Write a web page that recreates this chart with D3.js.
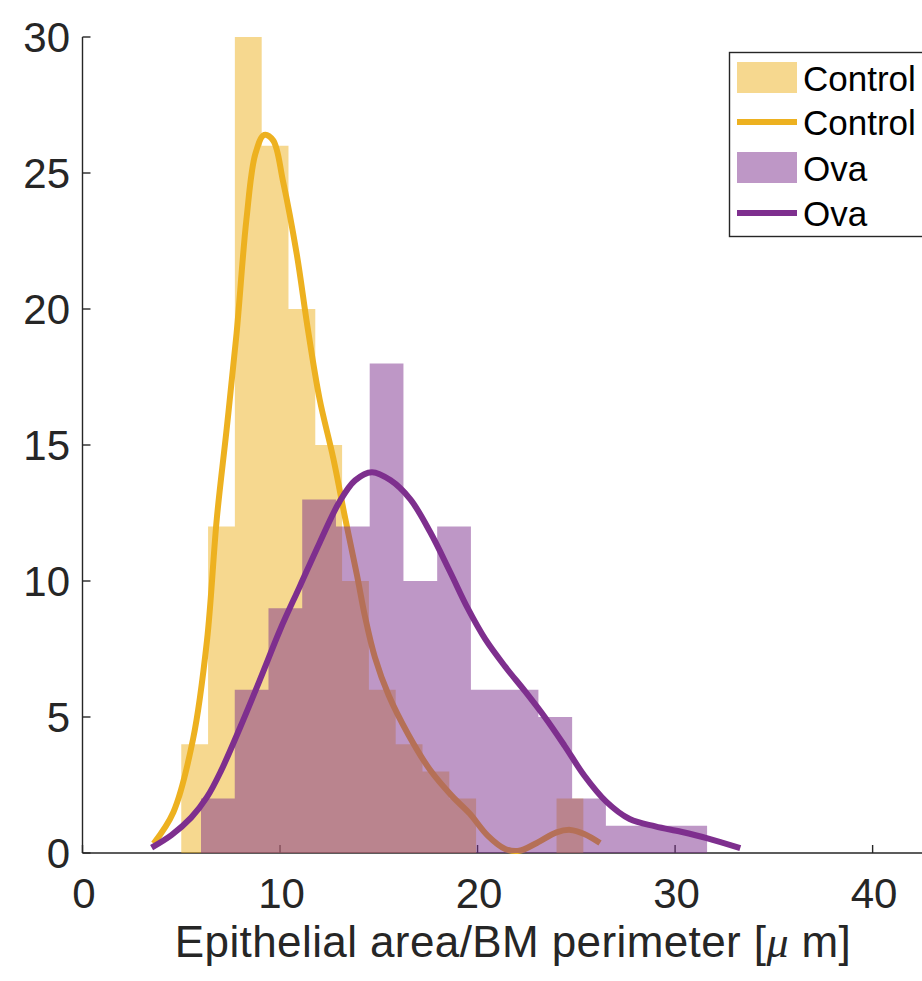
<!DOCTYPE html>
<html>
<head>
<meta charset="utf-8">
<script src="https://cdn.jsdelivr.net/npm/d3@7"></script>
<style>
  html, body { margin: 0; padding: 0; background: #fff; }
  svg { display: block; }
  text { font-family: "Liberation Sans", Arial, Helvetica, sans-serif; }
</style>
</head>
<body>
<svg id="chart" width="922" height="981"></svg>
<script>
// Histogram bins (left edge of first bin and bin width) and counts per bin
const controlBinStart = 5.0;
const controlBinWidth = 1.357;
const controlCounts = [4, 12, 30, 26, 20, 15, 10, 6, 4, 3, 2, 0, 0, 0, 2];

const ovaBinStart = 6.0;
const ovaBinWidth = 1.708;
const ovaCounts = [2, 6, 9, 13, 12, 18, 10, 12, 6, 6, 5, 2, 1, 1, 1];

// Kernel density fits, scaled to counts
const controlFitX = [3.6, 4.6, 5.6, 6.3, 6.8, 7.3, 7.8, 8.3, 8.75, 9.2, 9.65, 10.15, 10.85, 11.4, 12.0, 12.7, 13.3, 13.9, 14.3, 14.8, 15.5, 16.5, 17.6, 18.7, 19.6, 20.5, 21.4, 22.1, 23.0, 24.0, 24.7, 25.4, 26.2];
const controlFitY = [0.35, 1.5, 4.2, 7.8, 12.3, 15.6, 19.1, 23.3, 25.7, 26.4, 26.2, 24.7, 22.0, 19.3, 16.7, 14.5, 12.3, 10.2, 8.7, 7.2, 5.8, 4.35, 3.05, 2.1, 1.45, 0.65, 0.15, 0.08, 0.37, 0.76, 0.85, 0.7, 0.37];

const ovaFitX = [3.5, 4.5, 5.5, 6.3, 7.0, 8.0, 9.0, 10.0, 11.0, 12.0, 13.0, 13.8, 14.65, 15.6, 16.6, 17.6, 18.6, 19.5, 20.4, 21.4, 22.4, 23.4, 24.4, 25.4, 26.5, 27.7, 29.0, 30.3, 31.6, 33.3];
const ovaFitY = [0.2, 0.66, 1.3, 2.05, 3.0, 4.65, 6.4, 8.2, 9.8, 11.4, 12.9, 13.7, 14.0, 13.7, 13.0, 11.8, 10.35, 9.0, 7.85, 6.85, 5.95, 5.0, 3.95, 2.85, 1.9, 1.25, 0.98, 0.78, 0.55, 0.18];

const xTicks = [0, 10, 20, 30, 40];
const yTicks = [0, 5, 10, 15, 20, 25, 30];
const legendLabels = ["Control", "Control", "Ova", "Ova"];
const xLabelMain = "Epithelial area/BM perimeter [";
const xLabelMu = "\u03bc";
const xLabelEnd = " m]";

const colControl = "#EDB120";
const colOva = "#7E2F8E";
const axisColor = "#262626";

const svg = d3.select("#chart");

const x = d3.scaleLinear().domain([0, 42.5]).range([82.5, 922]);
const y = d3.scaleLinear().domain([0, 30]).range([853, 37]);

// Axes (drawn first so the translucent bars sit over them)
const gAxes = svg.append("g");
gAxes.append("line")
  .attr("x1", x(0)).attr("x2", 922)
  .attr("y1", y(0)).attr("y2", y(0))
  .attr("stroke", axisColor).attr("stroke-width", 1.4);
gAxes.append("line")
  .attr("x1", x(0)).attr("x2", x(0))
  .attr("y1", y(0)).attr("y2", y(30))
  .attr("stroke", axisColor).attr("stroke-width", 1.4);

gAxes.selectAll(".xt").data(xTicks).enter().append("line")
  .attr("x1", d => x(d)).attr("x2", d => x(d))
  .attr("y1", y(0)).attr("y2", y(0) - 8)
  .attr("stroke", axisColor).attr("stroke-width", 1.4);
gAxes.selectAll(".yt").data(yTicks).enter().append("line")
  .attr("x1", x(0)).attr("x2", x(0) + 8)
  .attr("y1", d => y(d)).attr("y2", d => y(d))
  .attr("stroke", axisColor).attr("stroke-width", 1.4);

gAxes.selectAll(".xl").data(xTicks).enter().append("text")
  .attr("x", d => x(d) + 1.5).attr("y", 908)
  .attr("text-anchor", "middle")
  .attr("font-size", 42).attr("fill", axisColor)
  .text(d => d);
gAxes.selectAll(".yl").data(yTicks).enter().append("text")
  .attr("x", 70).attr("y", d => y(d) + 15)
  .attr("text-anchor", "end")
  .attr("font-size", 42).attr("fill", axisColor)
  .text(d => d);

const xl = gAxes.append("text")
  .attr("x", 513).attr("y", 957)
  .attr("text-anchor", "middle")
  .attr("font-size", 44).attr("letter-spacing", 0.4).attr("fill", axisColor);
xl.append("tspan").text(xLabelMain);
xl.append("tspan").attr("font-family", "'Liberation Serif', 'DejaVu Serif', serif")
  .attr("font-style", "italic").text(xLabelMu);
xl.append("tspan").text(xLabelEnd);

// One path per histogram so neighbouring bars join without seams
function bars(counts, start, width, color) {
  const p = d3.path();
  counts.forEach((c, i) => {
    if (c <= 0) return;
    const x0 = x(start + i * width), x1 = x(start + (i + 1) * width);
    p.rect(x0, y(c), x1 - x0, y(0) - y(c));
  });
  return svg.append("path").attr("d", p.toString())
    .attr("fill", color).attr("fill-opacity", 0.5);
}

const line = d3.line().curve(d3.curveCatmullRom.alpha(0.5))
  .x(d => x(d[0])).y(d => y(d[1]));

bars(controlCounts, controlBinStart, controlBinWidth, colControl);
svg.append("path")
  .attr("d", line(d3.zip(controlFitX, controlFitY)))
  .attr("fill", "none").attr("stroke", colControl)
  .attr("stroke-width", 6).attr("stroke-linejoin", "round");

bars(ovaCounts, ovaBinStart, ovaBinWidth, colOva);
svg.append("path")
  .attr("d", line(d3.zip(ovaFitX, ovaFitY)))
  .attr("fill", "none").attr("stroke", colOva)
  .attr("stroke-width", 6).attr("stroke-linejoin", "round");

// Legend
const lg = svg.append("g");
lg.append("rect")
  .attr("x", 729.5).attr("y", 52.5).attr("width", 240).attr("height", 184)
  .attr("fill", "#fff").attr("stroke", axisColor).attr("stroke-width", 1.4);
const rowY = [77.5, 122, 167.5, 213];
const rowKind = ["patch", "line", "patch", "line"];
const rowColor = [colControl, colControl, colOva, colOva];
rowY.forEach((cy, i) => {
  if (rowKind[i] === "patch") {
    lg.append("rect").attr("x", 737).attr("y", cy - 15.5)
      .attr("width", 60).attr("height", 31)
      .attr("fill", rowColor[i]).attr("fill-opacity", 0.5);
  } else {
    lg.append("line").attr("x1", 737).attr("x2", 797)
      .attr("y1", cy).attr("y2", cy)
      .attr("stroke", rowColor[i]).attr("stroke-width", 6);
  }
  lg.append("text").attr("x", 803).attr("y", cy + 13)
    .attr("font-size", 35).attr("fill", "#000")
    .text(legendLabels[i]);
});
</script>
</body>
</html>
